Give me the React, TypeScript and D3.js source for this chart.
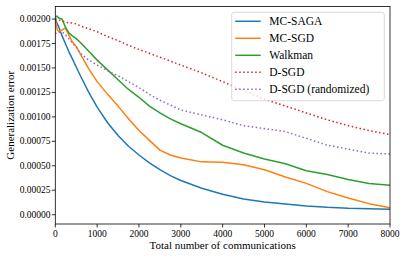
import { useMemo } from "react";
import * as d3 from "d3";

const WIDTH = 405;
const HEIGHT = 258;
const MARGIN = { top: 6.5, right: 15, bottom: 34, left: 55.3 };

// communications (x) shared by every series
const steps = [
  0, 40, 80, 160, 240, 320, 400, 500, 600, 800, 1000, 1250, 1500, 1750, 2000,
  2250, 2500, 2750, 3000, 3500, 4000, 4500, 5000, 5500, 6000, 6500, 7000, 7500, 8000,
];

const mcSaga = [
  0.002, 0.00196, 0.00192, 0.00183, 0.00175, 0.00167, 0.0016, 0.00151, 0.00142, 0.00125,
  0.0011, 0.00094, 0.00081, 0.0007, 0.00061, 0.00053, 0.00046, 0.0004, 0.00035, 0.00027,
  0.00021, 0.00016, 0.00013, 0.00011, 0.00009, 0.000075, 0.000065, 0.00006, 0.000057,
];
const mcSgd = [
  0.00198, 0.0019, 0.00187, 0.00189, 0.00191, 0.00184, 0.00177, 0.00172, 0.00164, 0.00149,
  0.00136, 0.00123, 0.00111, 0.00098, 0.00086, 0.00076, 0.00066, 0.00061, 0.00058, 0.00054,
  0.000535, 0.00051, 0.00046, 0.000385, 0.00032, 0.000236, 0.00017, 0.000113, 0.00007,
];
const walkman = [
  0.00202, 0.00203, 0.00201, 0.002, 0.00192, 0.00186, 0.00183, 0.0018, 0.00176, 0.00167,
  0.00158, 0.00148, 0.00138, 0.00128, 0.0012, 0.00111, 0.00104, 0.00098, 0.00093, 0.00084,
  0.00071, 0.00063, 0.00057, 0.00052, 0.00045, 0.00041, 0.00036, 0.00032, 0.0003,
];
const dSgd = [
  0.002, 0.002, 0.00199, 0.00198, 0.00197, 0.00196, 0.00196, 0.00195, 0.00193, 0.0019,
  0.00187, 0.00182, 0.00178, 0.00173, 0.00169, 0.00165, 0.00161, 0.00157, 0.00153, 0.00145,
  0.00136, 0.00127, 0.00118, 0.00111, 0.00104, 0.00097, 0.00091, 0.00086, 0.00082,
];
const dSgdRand = [
  0.00185, 0.00186, 0.00186, 0.00187, 0.00184, 0.0018, 0.00176, 0.00171, 0.00165, 0.00158,
  0.00153, 0.00147, 0.00142, 0.00136, 0.0013, 0.00123, 0.00117, 0.00112, 0.00107, 0.00102,
  0.00097, 0.00091, 0.00088, 0.00085, 0.00078, 0.00071, 0.00067, 0.00063, 0.00062,
];

const seriesNames = ["MC-SAGA", "MC-SGD", "Walkman", "D-SGD", "D-SGD (randomized)"];
const seriesValues = [mcSaga, mcSgd, walkman, dSgd, dSgdRand];
const seriesColors = ["#1f77b4", "#ff7f0e", "#2ca02c", "#d62728", "#9467bd"];
const seriesDotted = [false, false, false, true, true];

const xTicks = [0, 1000, 2000, 3000, 4000, 5000, 6000, 7000, 8000];
const yTicks = [0, 0.00025, 0.0005, 0.00075, 0.001, 0.00125, 0.0015, 0.00175, 0.002];

const serif = { fontFamily: "'Liberation Serif', 'DejaVu Serif', serif" };

export default function App() {
  const boundsWidth = WIDTH - MARGIN.left - MARGIN.right;
  const boundsHeight = HEIGHT - MARGIN.top - MARGIN.bottom;

  const xScale = useMemo(
    () => d3.scaleLinear().domain([0, 8000]).range([0, boundsWidth]),
    [boundsWidth]
  );
  const yScale = useMemo(
    () => d3.scaleLinear().domain([-0.000095, 0.002128]).range([boundsHeight, 0]),
    [boundsHeight]
  );

  const lineGen = d3
    .line<number>()
    .x((_, i) => xScale(steps[i]))
    .y((d) => yScale(d));

  const legendX = 231.7 - MARGIN.left;
  const legendY = 12.3 - MARGIN.top;

  return (
    <svg
      width={WIDTH}
      height={HEIGHT}
      style={{ position: "absolute", left: 0, top: 0, background: "#fff" }}
    >
      <g transform={`translate(${MARGIN.left},${MARGIN.top})`}>
        <defs>
          <clipPath id="plot-clip">
            <rect width={boundsWidth} height={boundsHeight} />
          </clipPath>
        </defs>

        <g clipPath="url(#plot-clip)">
          {seriesValues.map((vals, i) => (
            <path
              key={seriesNames[i]}
              d={lineGen(vals) ?? ""}
              fill="none"
              stroke={seriesColors[i]}
              strokeWidth={1.5}
              strokeDasharray={seriesDotted[i] ? "1.5 2.5" : undefined}
              strokeLinejoin="round"
            />
          ))}
        </g>

        {/* frame */}
        <rect
          width={boundsWidth}
          height={boundsHeight}
          fill="none"
          stroke="#000"
          strokeWidth={0.8}
        />

        {/* x axis */}
        {xTicks.map((t) => (
          <g key={t} transform={`translate(${xScale(t)},${boundsHeight})`}>
            <line y2={3.5} stroke="#000" strokeWidth={0.8} />
            <text y={12.8} textAnchor="middle" fontSize={9.5} fill="#000" style={serif}>
              {t}
            </text>
          </g>
        ))}
        <text
          x={boundsWidth / 2}
          y={248.5 - MARGIN.top}
          textAnchor="middle"
          fontSize={11}
          fill="#000"
          style={serif}
        >
          Total number of communications
        </text>

        {/* y axis */}
        {yTicks.map((t) => (
          <g key={t} transform={`translate(0,${yScale(t)})`}>
            <line x2={-3.5} stroke="#000" strokeWidth={0.8} />
            <text
              x={-4.8}
              dy="0.32em"
              textAnchor="end"
              fontSize={9.5}
              fill="#000"
              style={serif}
            >
              {d3.format(".5f")(t)}
            </text>
          </g>
        ))}
        <text
          transform={`translate(${14 - MARGIN.left},${boundsHeight / 2}) rotate(-90)`}
          textAnchor="middle"
          fontSize={11}
          fill="#000"
          style={serif}
        >
          Generalization error
        </text>

        {/* legend */}
        <g transform={`translate(${legendX},${legendY})`}>
          <rect
            width={152.6}
            height={88.4}
            rx={2.5}
            fill="#fff"
            fillOpacity={0.8}
            stroke="#d0d0d0"
            strokeWidth={0.8}
          />
          {seriesNames.map((name, i) => {
            const cy = 9 + i * 17;
            return (
              <g key={name} transform={`translate(0,${cy})`}>
                <line
                  x1={3.5}
                  x2={29}
                  stroke={seriesColors[i]}
                  strokeWidth={1.5}
                  strokeDasharray={seriesDotted[i] ? "1.5 2.5" : undefined}
                />
                <text x={37.6} dy="0.35em" fontSize={11.5} fill="#000" style={serif}>
                  {name}
                </text>
              </g>
            );
          })}
        </g>
      </g>
    </svg>
  );
}
